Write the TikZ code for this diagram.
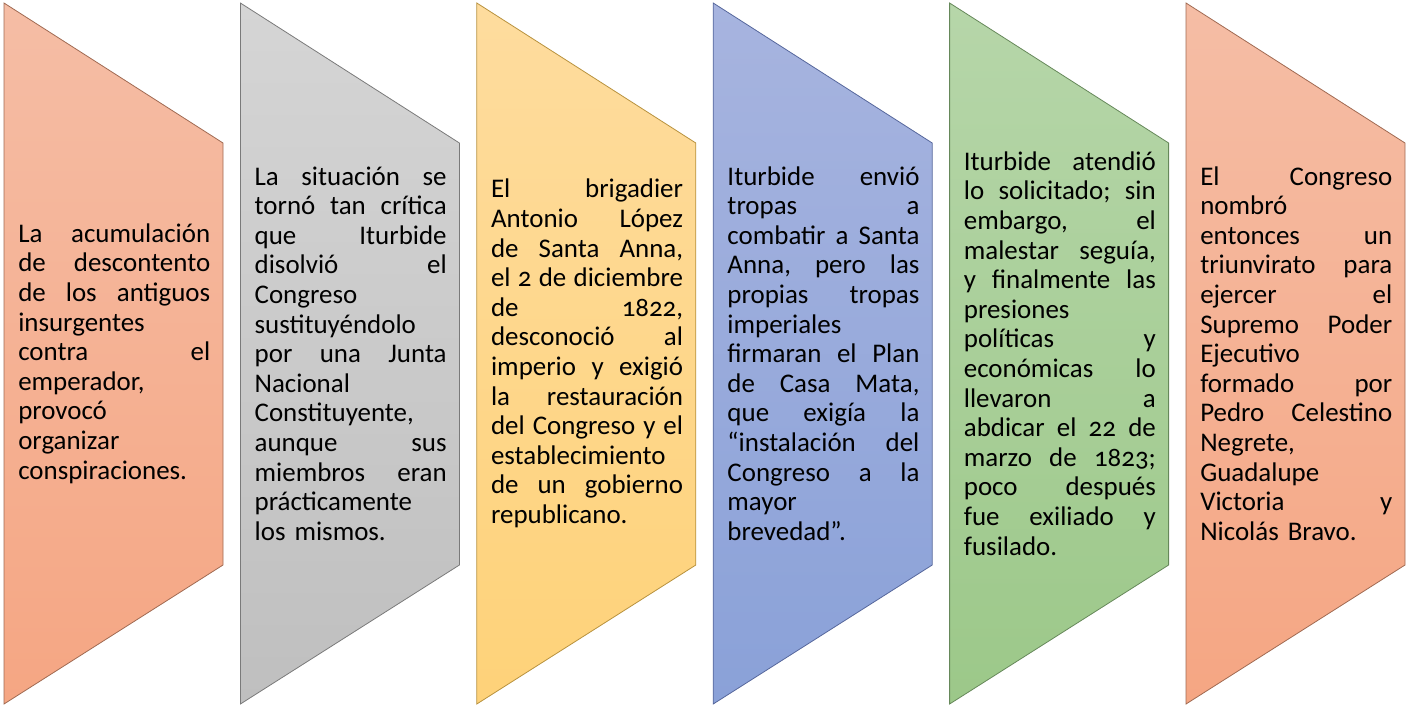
\documentclass[tikz,border=0pt]{standalone}
\usepackage{fontspec}
\setmainfont{Carlito}[Numbers=OldStyle]
\definecolor{oTop}{HTML}{F5BDA5}
\definecolor{oBot}{HTML}{F5A683}
\definecolor{oLine}{HTML}{A06A52}
\definecolor{gTop}{HTML}{D5D5D5}
\definecolor{gBot}{HTML}{BFBFBF}
\definecolor{gLine}{HTML}{7A7A7A}
\definecolor{yTop}{HTML}{FEDC9E}
\definecolor{yBot}{HTML}{FED279}
\definecolor{yLine}{HTML}{B8923E}
\definecolor{bTop}{HTML}{A7B4DF}
\definecolor{bBot}{HTML}{8AA1D8}
\definecolor{bLine}{HTML}{56679C}
\definecolor{vTop}{HTML}{B6D6A9}
\definecolor{vBot}{HTML}{9CC889}
\definecolor{vLine}{HTML}{66885A}
\newlength\colw
\setlength\colw{144pt}
\newcommand\gp{\hspace{0.2em plus 1fill}}
\newcommand\jx[1]{\leavevmode\hbox to\colw{#1}}
\newcommand\lx[1]{\leavevmode\hbox to\colw{#1\hfill}}
\tikzset{
  txt/.style={anchor=west, inner sep=0pt, text width=\colw, align=left,
    font=\fontsize{20.2pt}{22.2pt}\selectfont, text=black},
  shp/.style={line width=0.6pt}
}
\newcommand\chev[4]{% left x, top color, bottom color, line color
  \path[shp, top color=#2, bottom color=#3, draw=#4]
    (#1,3) -- (#1+219,143) -- (#1+219,565) -- (#1,704) -- cycle;}
\begin{document}
\begin{tikzpicture}[x=0.75pt,y=-0.75pt]
\useasboundingbox (0,0) rectangle (1409,708);
\chev{4}{oTop}{oBot}{oLine}
\chev{240.4}{gTop}{gBot}{gLine}
\chev{476.8}{yTop}{yBot}{yLine}
\chev{713.2}{bTop}{bBot}{bLine}
\chev{949.6}{vTop}{vBot}{vLine}
\chev{1186}{oTop}{oBot}{oLine}

\node[txt] (t1) at (18,353.5) {%
\jx{La\gp acumulación}\\
\jx{de\gp descontento}\\
\jx{de\gp los\gp antiguos}\\
\lx{insurgentes}\\
\jx{contra\gp el}\\
\lx{emperador,}\\
\lx{provocó}\\
\lx{organizar}\\
\lx{conspiraciones.}};

\node[txt] (t2) at (254.4,353.5) {%
\jx{La\gp situación\gp se}\\
\jx{tornó\gp tan\gp crítica}\\
\jx{que\gp Iturbide}\\
\jx{disolvió\gp el}\\
\lx{Congreso}\\
\lx{sustituyéndolo}\\
\jx{por\gp una\gp Junta}\\
\lx{Nacional}\\
\lx{Constituyente,}\\
\jx{aunque\gp sus}\\
\jx{miembros\gp eran}\\
\lx{prácticamente}\\
\lx{los mismos.}};

\node[txt] (t3) at (490.8,353.5) {%
\jx{El\gp brigadier}\\
\jx{Antonio\gp López}\\
\jx{de\gp Santa\gp Anna,}\\
\jx{el\gp 2\gp de\gp diciembre}\\
\jx{de\gp 1822,}\\
\jx{desconoció\gp al}\\
\jx{imperio\gp y\gp exigió}\\
\jx{la\gp restauración}\\
\jx{del\gp Congreso\gp y\gp el}\\
\lx{establecimiento}\\
\jx{de\gp un\gp gobierno}\\
\lx{republicano.}};

\node[txt] (t4) at (727.2,353.5) {%
\jx{Iturbide\gp envió}\\
\jx{tropas\gp a}\\
\jx{combatir\gp a\gp Santa}\\
\jx{Anna,\gp pero\gp las}\\
\jx{propias\gp tropas}\\
\lx{imperiales}\\
\jx{firmaran\gp el\gp Plan}\\
\jx{de\gp Casa\gp Mata,}\\
\jx{que\gp exigía\gp la}\\
\jx{“instalación\gp del}\\
\jx{Congreso\gp a\gp la}\\
\lx{mayor}\\
\lx{brevedad”.}};

\node[txt] (t5) at (963.6,353.5) {%
\jx{Iturbide\gp atendió}\\
\jx{lo\gp solicitado;\gp sin}\\
\jx{embargo,\gp el}\\
\jx{malestar\gp seguía,}\\
\jx{y\gp finalmente\gp las}\\
\lx{presiones}\\
\jx{políticas\gp y}\\
\jx{económicas\gp lo}\\
\jx{llevaron\gp a}\\
\jx{abdicar\gp el\gp 22\gp de}\\
\jx{marzo\gp de\gp 1823;}\\
\jx{poco\gp después}\\
\jx{fue\gp exiliado\gp y}\\
\lx{fusilado.}};

\node[txt] (t6) at (1200,353.5) {%
\jx{El\gp Congreso}\\
\lx{nombró}\\
\jx{entonces\gp un}\\
\jx{triunvirato\gp para}\\
\jx{ejercer\gp el}\\
\jx{Supremo\gp Poder}\\
\lx{Ejecutivo}\\
\jx{formado\gp por}\\
\jx{Pedro\gp Celestino}\\
\lx{Negrete,}\\
\lx{Guadalupe}\\
\jx{Victoria\gp y}\\
\lx{Nicolás Bravo.}};
\end{tikzpicture}
\end{document}
